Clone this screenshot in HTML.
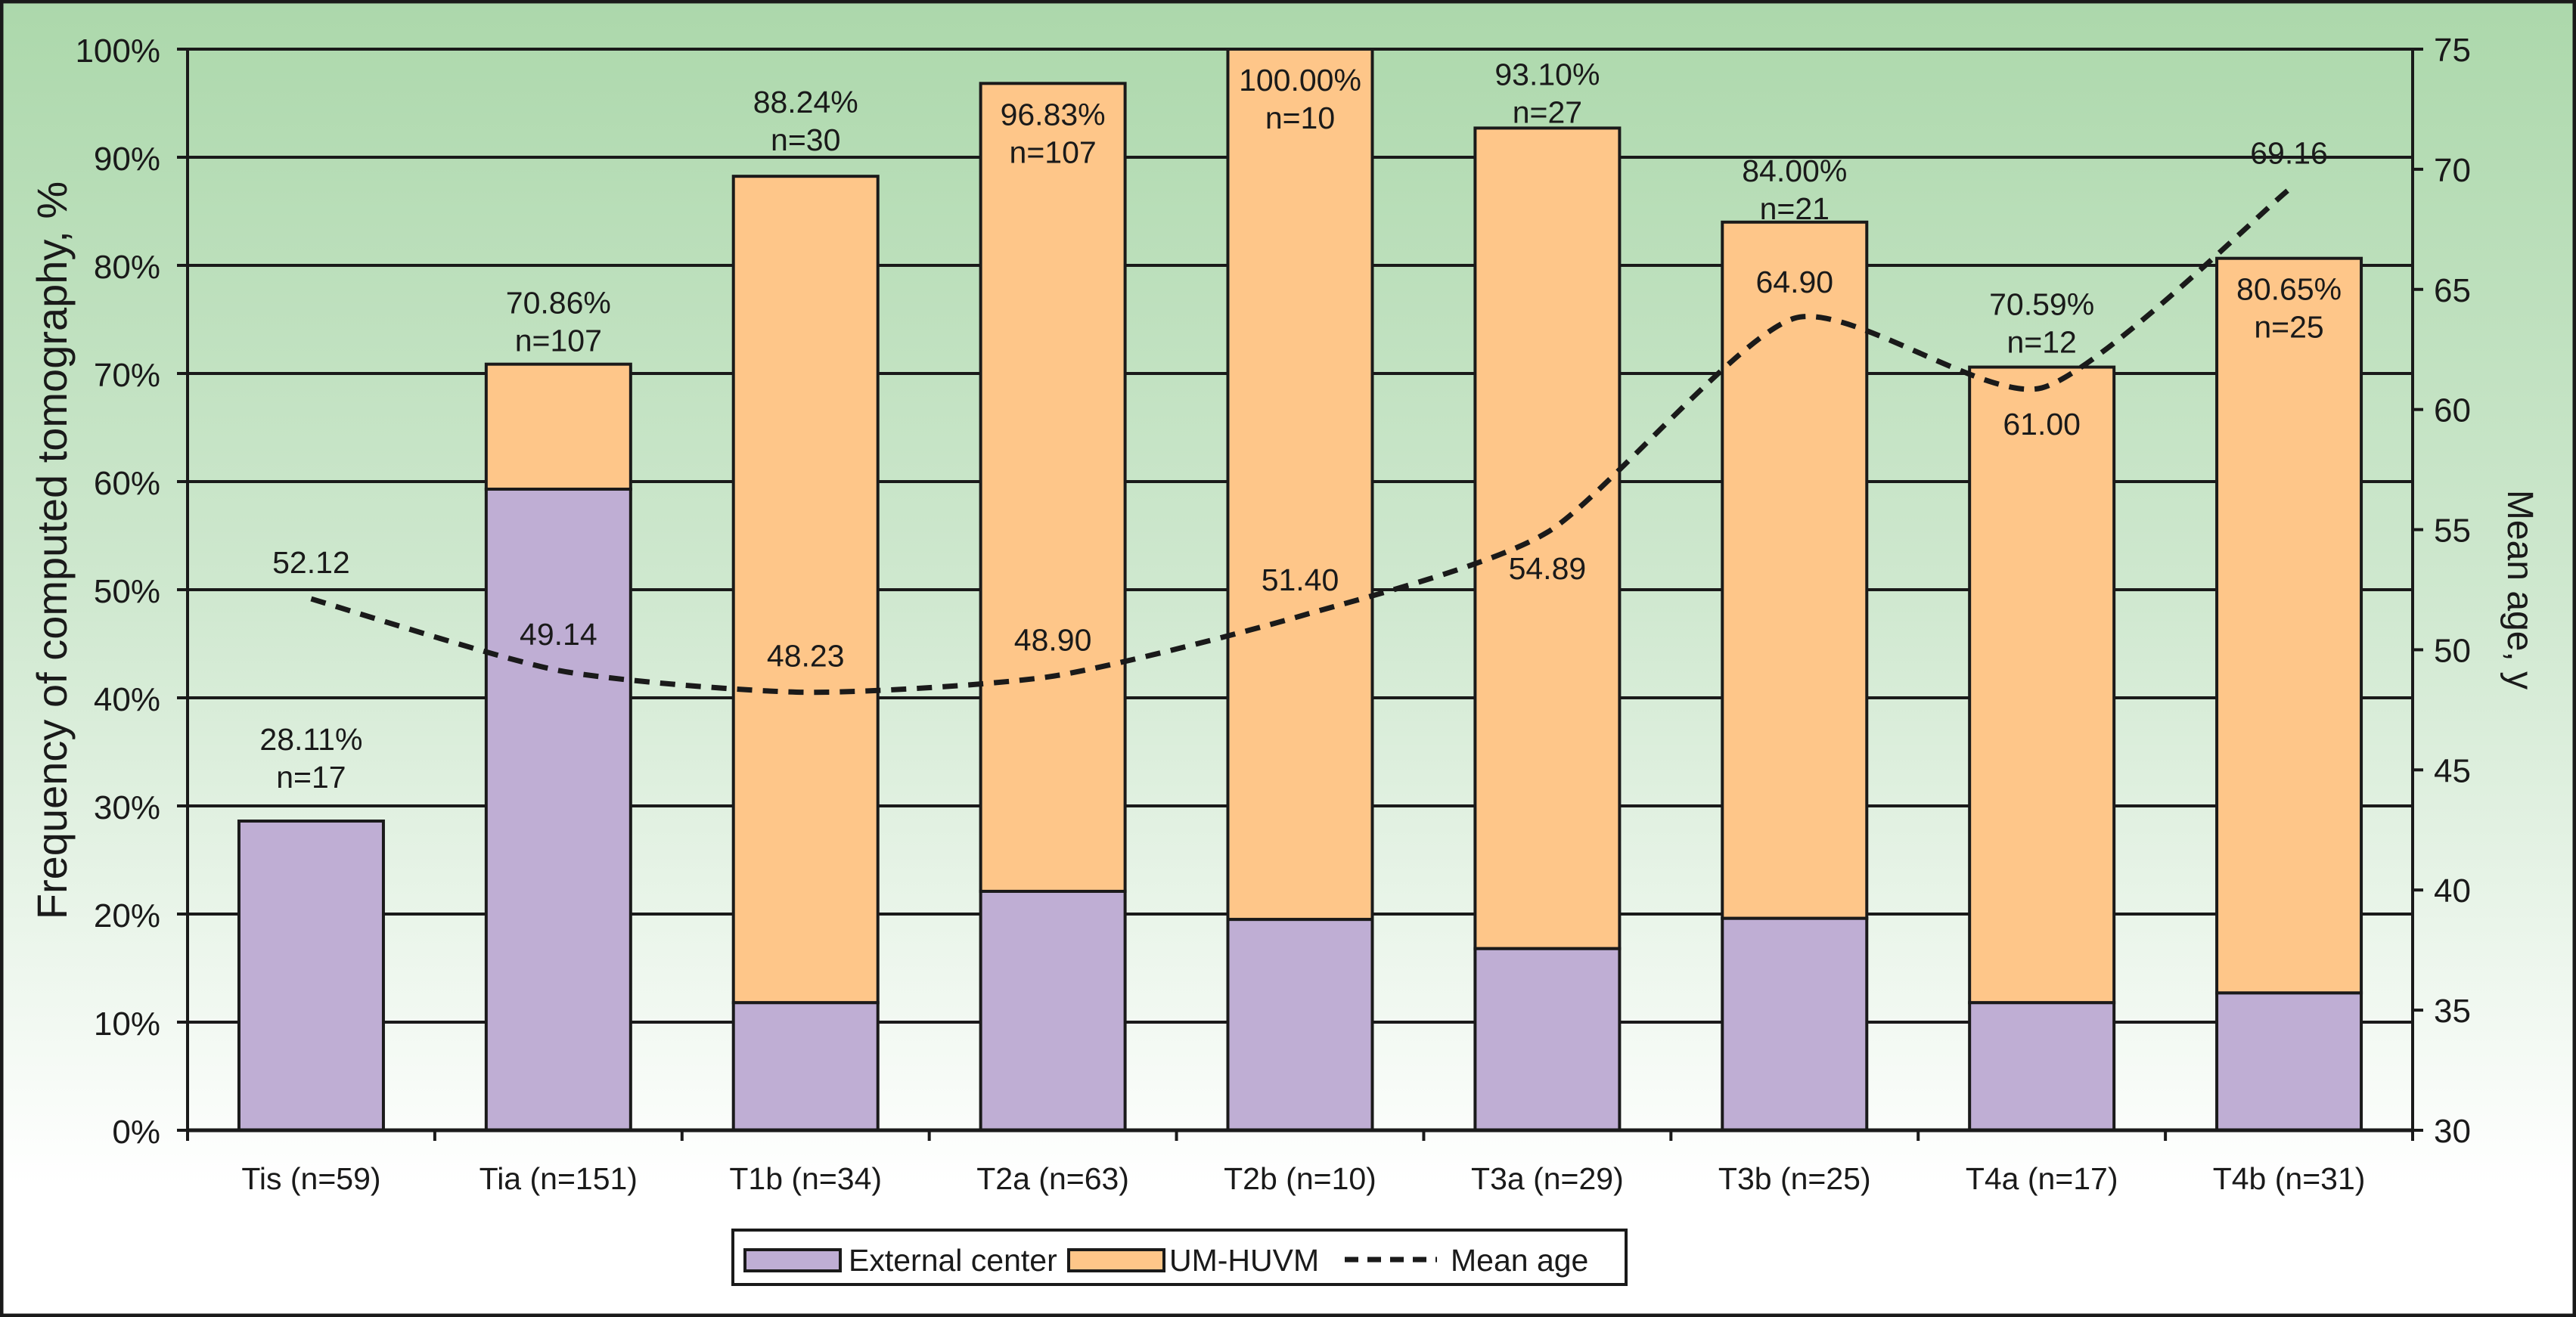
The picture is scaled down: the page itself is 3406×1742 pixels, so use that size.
<!DOCTYPE html>
<html><head><meta charset="utf-8"><style>
html,body{margin:0;padding:0;background:#fff}
svg{display:block}
text{font-family:"Liberation Sans",Arial,sans-serif;fill:#1a1a1a}
</style></head><body>
<svg id="chart" width="3406" height="1742" viewBox="0 0 3406 1742" xmlns="http://www.w3.org/2000/svg">
<defs><linearGradient id="bg" x1="0" y1="0" x2="0" y2="1">
<stop offset="0" stop-color="#acd8ab"/><stop offset="0.45" stop-color="#cfe8cf"/><stop offset="0.9" stop-color="#ffffff"/></linearGradient></defs>
<rect x="2" y="2" width="3402" height="1738" fill="url(#bg)" stroke="#1a1a1a" stroke-width="5"/>
<g id="grid"></g><g id="bars"></g><g id="line"></g><g id="labels"></g><g id="axes"></g>
<text x="0" y="0" font-size="56" text-anchor="middle" transform="translate(88,728) rotate(-90)">Frequency of computed tomography, %</text>
<text x="0" y="0" font-size="48" text-anchor="middle" transform="translate(3316,780) rotate(90)">Mean age, y</text>
<g>
<rect x="969" y="1627" width="1181" height="72" fill="#fff" stroke="#1a1a1a" stroke-width="4"/>
<rect x="985" y="1653" width="126" height="28" fill="#bfaed4" stroke="#1a1a1a" stroke-width="4"/>
<text x="1122" y="1681" font-size="41">External center</text>
<rect x="1413" y="1653" width="126" height="28" fill="#fec689" stroke="#1a1a1a" stroke-width="4"/>
<text x="1546" y="1681" font-size="41">UM-HUVM</text>
<line x1="1778" y1="1666" x2="1900" y2="1666" stroke="#1a1a1a" stroke-width="7" stroke-dasharray="18,12"/>
<text x="1918" y="1681" font-size="41">Mean age</text>
</g>
</svg>
<script>
const categories=["Tis (n=59)","Tia (n=151)","T1b (n=34)","T2a (n=63)","T2b (n=10)","T3a (n=29)","T3b (n=25)","T4a (n=17)","T4b (n=31)"];
const externalPct=[28.6,59.3,11.8,22.1,19.5,16.8,19.6,11.8,12.7];
const totalPct=[28.6,70.86,88.24,96.83,100,92.7,84.0,70.59,80.65];
const totalLabels=["28.11%","70.86%","88.24%","96.83%","100.00%","93.10%","84.00%","70.59%","80.65%"];
const nLabels=["n=17","n=107","n=30","n=107","n=10","n=27","n=21","n=12","n=25"];
const labelInside=[false,false,false,true,true,false,false,false,true];
const labelGap=[44,17,34,0,0,7,4,19,0];
const meanAge=[52.12,49.14,48.23,48.90,51.40,54.89,63.8,60.9,69.16];
const ageLabels=["52.12","49.14","48.23","48.90","51.40","54.89","64.90","61.00","69.16"];
const ageLabelBelow=[false,false,false,false,false,true,false,true,false];
const yTicks=[0,10,20,30,40,50,60,70,80,90,100];
const y2Ticks=[30,35,40,45,50,55,60,65,70,75];

const NS="http://www.w3.org/2000/svg";
const X0=248,X1=3190,Y0=1495,Y1=65;
const step=(X1-X0)/categories.length, barW=191;
const xC=i=>X0+step*(i+0.5);
const yP=v=>Y0-(v/100)*(Y0-Y1);
const yA=v=>Y0-((v-30)/45)*(Y0-Y1);
function mk(tag,attrs,parent,txt){const e=document.createElementNS(NS,tag);for(const k in attrs)e.setAttribute(k,attrs[k]);if(txt!==undefined)e.textContent=txt;document.getElementById(parent).appendChild(e);return e;}
const ink="#1a1a1a";
yTicks.forEach(t=>{
  const g=mk('line',{x1:X0-14,x2:X1,y1:yP(t),y2:yP(t),stroke:ink,'stroke-width':4},'grid');
  
  
  const l=mk('text',{x:X0-36,y:yP(t)+17,'font-size':44,'text-anchor':'end'},'axes',t+'%');
  
  
});
y2Ticks.forEach(t=>{
  mk('line',{x1:X1,x2:X1+14,y1:yA(t),y2:yA(t),stroke:ink,'stroke-width':4},'axes');
  const l=mk('text',{x:X1+28,y:yA(t)+16,'font-size':44},'axes',String(t));
  
  
});
mk('line',{x1:X0,x2:X0,y1:Y1,y2:Y0,stroke:ink,'stroke-width':4},'axes');
mk('line',{x1:X1,x2:X1,y1:Y1,y2:Y0,stroke:ink,'stroke-width':4},'axes');
mk('line',{x1:X0,x2:X1,y1:Y0,y2:Y0,stroke:ink,'stroke-width':5},'axes');
for(let i=0;i<=categories.length;i++){mk('line',{x1:X0+step*i,x2:X0+step*i,y1:Y0,y2:Y0+14,stroke:ink,'stroke-width':4},'axes');}
categories.forEach((c,i)=>{
  const xl=mk('text',{x:xC(i),y:1573,'font-size':41,'text-anchor':'middle'},'axes',c);
  
  
  const bx=xC(i)-barW/2;
  if(totalPct[i]>externalPct[i]){
    const u=mk('rect',{x:bx,y:yP(totalPct[i]),width:barW,height:yP(externalPct[i])-yP(totalPct[i]),fill:'#fec689',stroke:ink,'stroke-width':4},'bars');
    
    
  }
  const e=mk('rect',{x:bx,y:yP(externalPct[i]),width:barW,height:Y0-yP(externalPct[i]),fill:'#bfaed4',stroke:ink,'stroke-width':4},'bars');
  
  
  const top=yP(totalPct[i]);
  const y2=labelInside[i]?top+105:top-labelGap[i], y1=y2-50;
  const t1=mk('text',{x:xC(i),y:y1,'font-size':41,'text-anchor':'middle'},'labels',totalLabels[i]);
  
  
  const t2=mk('text',{x:xC(i),y:y2,'font-size':41,'text-anchor':'middle'},'labels',nLabels[i]);
  
  
  const ay=yA(meanAge[i]);
  const al=mk('text',{x:xC(i),y:ageLabelBelow[i]?ay+62:ay-34,'font-size':41,'text-anchor':'middle'},'labels',ageLabels[i]);
  
  
});
const pts=meanAge.map((v,i)=>[xC(i),yA(v)]);
let d=`M${pts[0][0]},${pts[0][1]}`;
const k=9;
for(let i=0;i<pts.length-1;i++){
  const p0=pts[Math.max(0,i-1)],p1=pts[i],p2=pts[i+1],p3=pts[Math.min(pts.length-1,i+2)];
  const c1=[p1[0]+(p2[0]-p0[0])/k,p1[1]+(p2[1]-p0[1])/k],c2=[p2[0]-(p3[0]-p1[0])/k,p2[1]-(p3[1]-p1[1])/k];
  d+=` C${c1[0]},${c1[1]} ${c2[0]},${c2[1]} ${p2[0]},${p2[1]}`;
}
const ln=mk('path',{d:d,fill:'none',stroke:ink,'stroke-width':7,'stroke-dasharray':'20,14'},'line');


</script>
</body></html>
